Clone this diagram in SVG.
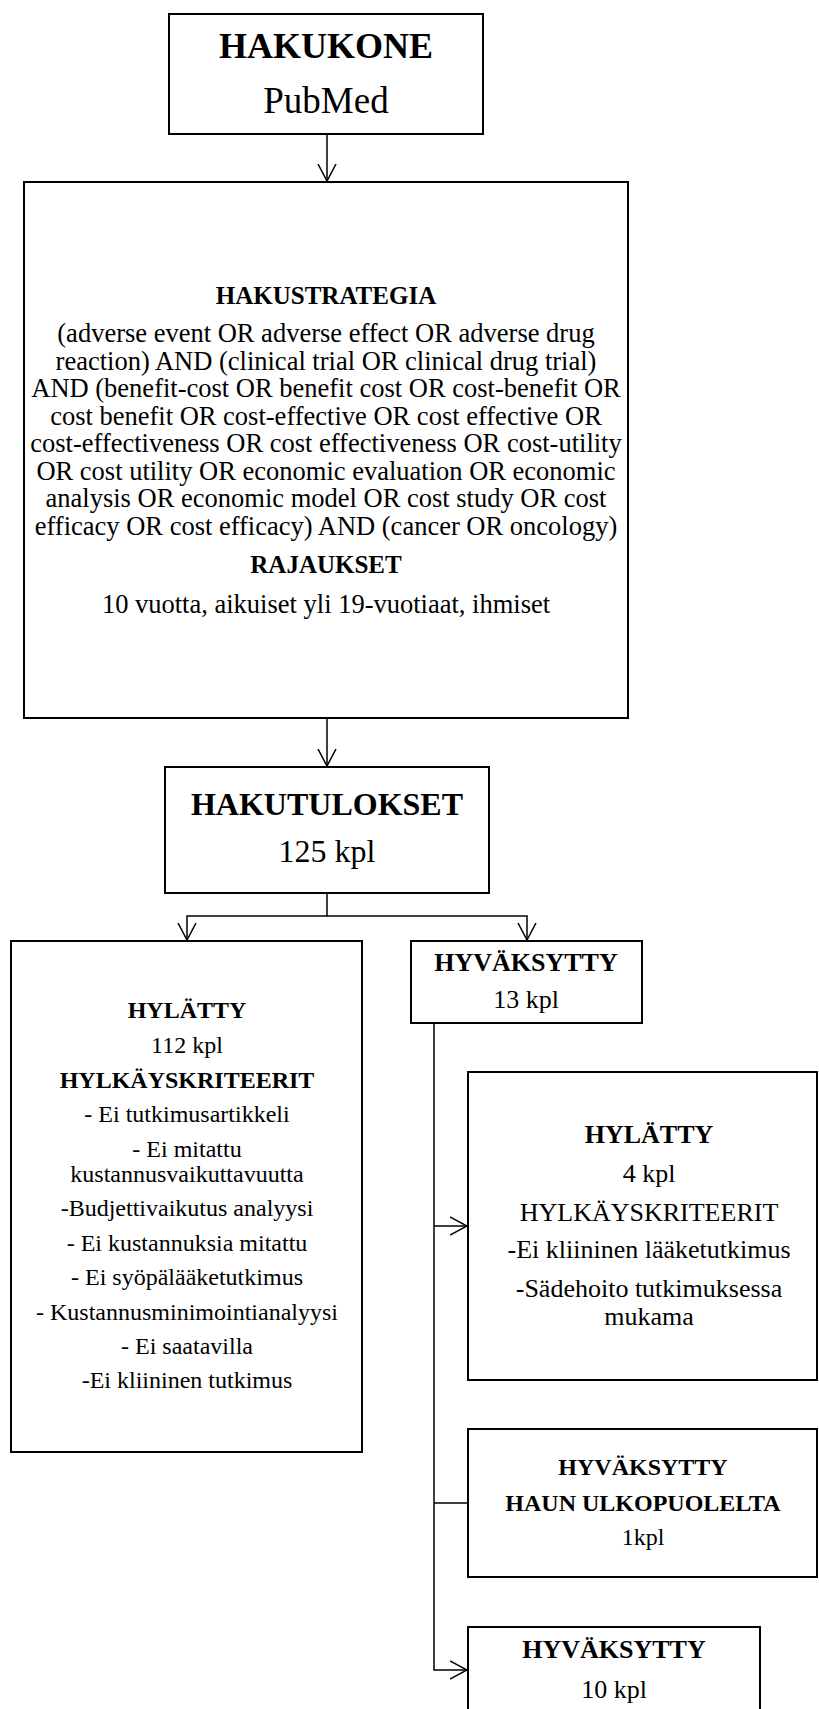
<svg xmlns="http://www.w3.org/2000/svg" width="819" height="1709" viewBox="0 0 819 1709">
<defs>
<style>
.box{fill:#fff;stroke:#000;stroke-width:2}
.t{font-family:"Liberation Serif","Times New Roman",serif;fill:#000;text-anchor:middle}
.b{font-weight:bold}
.con{fill:none;stroke:#000;stroke-width:1.5}
</style>
<marker id="arr" viewBox="0 0 18 20" refX="17" refY="10" markerWidth="18" markerHeight="20" markerUnits="userSpaceOnUse" orient="auto">
<path d="M0,1 L17,10 L0,19" fill="none" stroke="#000" stroke-width="1.5"/>
</marker>
</defs>
<rect width="819" height="1709" fill="#fff"/>
<g id="connectors">
<path class="con" d="M327,134 V181" marker-end="url(#arr)"/>
<path class="con" d="M327,718 V766" marker-end="url(#arr)"/>
<path class="con" d="M327,893 V916 H187 V940" marker-end="url(#arr)"/>
<path class="con" d="M327,916 H527 V940" marker-end="url(#arr)"/>
<path class="con" d="M434,1023 V1670 H467" marker-end="url(#arr)"/>
<path class="con" d="M434,1226 H467" marker-end="url(#arr)"/>
<path class="con" d="M434,1503 H468"/>
</g>
<g id="hakukone">
<rect class="box" x="169" y="14" width="314" height="120"/>
<text class="t b" x="326" y="58" font-size="36">HAKUKONE</text>
<text class="t" x="326" y="113" font-size="37">PubMed</text>
</g>
<g id="hakustrategia">
<rect class="box" x="24" y="182" width="604" height="536"/>
<text class="t b" x="326" y="304" font-size="25">HAKUSTRATEGIA</text>
<g class="t" font-size="26.5">
<text x="326" y="342">(adverse event OR adverse effect OR adverse drug</text>
<text x="326" y="369.5">reaction) AND (clinical trial OR clinical drug trial)</text>
<text x="326" y="397">AND (benefit-cost OR benefit cost OR cost-benefit OR</text>
<text x="326" y="424.5">cost benefit OR cost-effective OR cost effective OR</text>
<text x="326" y="452">cost-effectiveness OR cost effectiveness OR cost-utility</text>
<text x="326" y="479.5">OR cost utility OR economic evaluation OR economic</text>
<text x="326" y="507">analysis OR economic model OR cost study OR cost</text>
<text x="326" y="534.5">efficacy OR cost efficacy) AND (cancer OR oncology)</text>
</g>
<text class="t b" x="326" y="573" font-size="25">RAJAUKSET</text>
<text class="t" x="326" y="613" font-size="26.5">10 vuotta, aikuiset yli 19-vuotiaat, ihmiset</text>
</g>
<g id="hakutulokset">
<rect class="box" x="165" y="767" width="324" height="126"/>
<text class="t b" x="327" y="815" font-size="32">HAKUTULOKSET</text>
<text class="t" x="327" y="862" font-size="32">125 kpl</text>
</g>
<g id="hylatty1">
<rect class="box" x="11" y="941" width="351" height="511"/>
<g class="t" font-size="24">
<text class="b" x="187" y="1018">HYLÄTTY</text>
<text x="187" y="1053">112 kpl</text>
<text class="b" x="187" y="1088">HYLKÄYSKRITEERIT</text>
<text x="187" y="1122">- Ei tutkimusartikkeli</text>
<text x="187" y="1157">- Ei mitattu</text>
<text x="187" y="1182">kustannusvaikuttavuutta</text>
<text x="187" y="1216">-Budjettivaikutus analyysi</text>
<text x="187" y="1251">- Ei kustannuksia mitattu</text>
<text x="187" y="1285">- Ei syöpälääketutkimus</text>
<text x="187" y="1320">- Kustannusminimointianalyysi</text>
<text x="187" y="1354">- Ei saatavilla</text>
<text x="187" y="1388">-Ei kliininen tutkimus</text>
</g>
</g>
<g id="hyvaksytty13">
<rect class="box" x="411" y="941" width="231" height="82"/>
<text class="t b" x="526" y="971" font-size="26">HYVÄKSYTTY</text>
<text class="t" x="526" y="1008" font-size="26">13 kpl</text>
</g>
<g id="hylatty4">
<rect class="box" x="468" y="1072" width="349" height="308"/>
<g class="t" font-size="26">
<text class="b" x="649" y="1143">HYLÄTTY</text>
<text x="649" y="1182">4 kpl</text>
<text x="649" y="1221">HYLKÄYSKRITEERIT</text>
<text x="649" y="1258">-Ei kliininen lääketutkimus</text>
<text x="649" y="1297">-Sädehoito tutkimuksessa</text>
<text x="649" y="1325">mukama</text>
</g>
</g>
<g id="haun">
<rect class="box" x="468" y="1429" width="349" height="148"/>
<g class="t" font-size="24">
<text class="b" x="643" y="1475">HYVÄKSYTTY</text>
<text class="b" x="643" y="1511">HAUN ULKOPUOLELTA</text>
<text x="643" y="1545">1kpl</text>
</g>
</g>
<g id="hyvaksytty10">
<rect class="box" x="468" y="1627" width="292" height="90"/>
<text class="t b" x="614" y="1658" font-size="26">HYVÄKSYTTY</text>
<text class="t" x="614" y="1698" font-size="26">10 kpl</text>
</g>
</svg>
